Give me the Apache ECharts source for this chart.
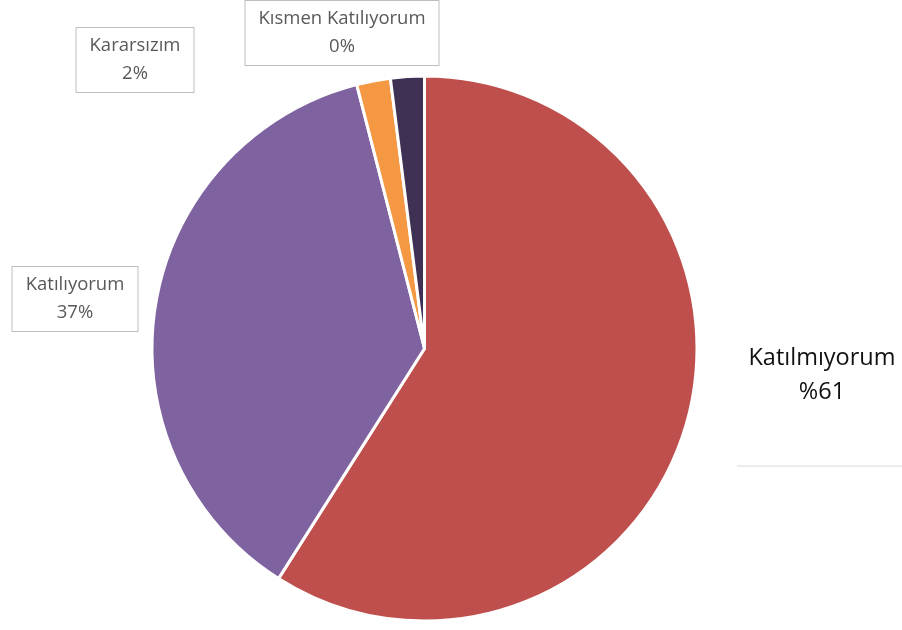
<!DOCTYPE html>
<html>
<head>
<meta charset="utf-8">
<script src="https://cdn.jsdelivr.net/npm/echarts@6/dist/echarts.min.js"></script>
<style>
  html, body { margin: 0; padding: 0; background: #fff; }
  #chart { width: 902px; height: 630px; }
</style>
</head>
<body>
<div id="chart"></div>
<script>
// answers, clockwise from 12 o'clock
const categories = ["Katılmıyorum", "Katılıyorum", "Kararsızım", "Kısmen Katılıyorum"];
const values = [59, 37, 2, 2];
const percentLabels = ["%61", "37%", "2%", "0%"];
const colors = ["#BE4F4C", "#7F63A1", "#F59844", "#3F3154"];

// where each label sits (centre of the label box)
const labelPos = [
  [822, 375],
  [75, 299],
  [135, 60],
  [342, 33],
];

const boxedLabel = (w) => ({
  color: "#595959",
  fontSize: 18.5,
  lineHeight: 28,
  width: w,
  backgroundColor: "#fff",
  borderColor: "#BFBFBF",
  borderWidth: 1,
  padding: [4, 0, 4, 0],
});

const labelStyles = [
  { color: "#111", fontSize: 23.5, lineHeight: 34 },
  boxedLabel(125),
  boxedLabel(117),
  boxedLabel(193),
];

const chartDom = document.getElementById("chart");
const myChart = echarts.init(chartDom);

const option = {
  animation: false,
  series: [
    {
      type: "pie",
      center: [424.5, 348.5],
      radius: 272.5,
      startAngle: 90,
      clockwise: true,
      itemStyle: {
        borderColor: "#fff",
        borderWidth: 3,
      },
      label: {
        show: true,
        position: "outside",
        align: "center",
        verticalAlign: "middle",
        fontFamily: "Open Sans",
        formatter: (p) => p.name + "\n" + percentLabels[p.dataIndex],
      },
      labelLine: { show: false },
      labelLayout: (params) => ({
        x: labelPos[params.dataIndex][0],
        y: labelPos[params.dataIndex][1],
        align: "center",
        verticalAlign: "middle",
      }),
      emphasis: { disabled: true },
      data: categories.map((name, i) => ({
        name: name,
        value: values[i],
        itemStyle: { color: colors[i] },
        label: labelStyles[i],
      })),
    },
  ],
  graphic: [
    {
      type: "line",
      shape: { x1: 737, y1: 466, x2: 902, y2: 466 },
      style: { stroke: "#D9D9D9", lineWidth: 1 },
    },
  ],
};

myChart.setOption(option);
window.addEventListener("resize", () => myChart.resize());
</script>
</body>
</html>
